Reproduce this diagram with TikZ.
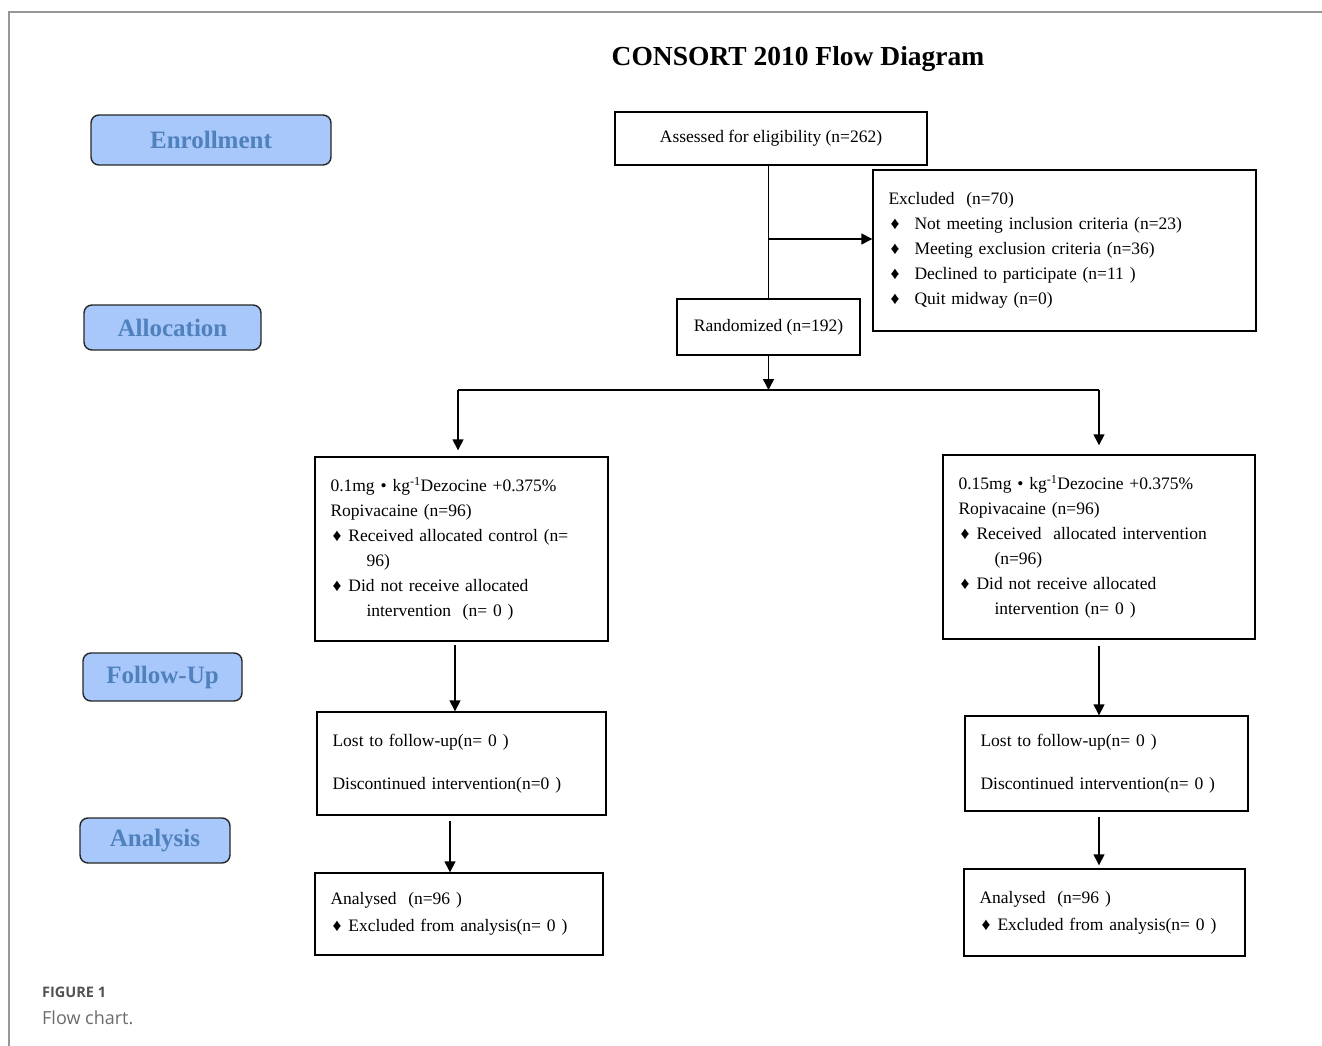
\documentclass[tikz,border=0pt]{standalone}
\usepackage{fontspec}
\setmainfont{Liberation Serif}
\newfontfamily\capfont{Open Sans}
\usetikzlibrary{arrows.meta,positioning,calc}

\definecolor{stagefill}{RGB}{168,199,250}
\definecolor{stagetext}{RGB}{79,129,189}
\definecolor{framegray}{RGB}{150,150,150}

% diamond bullets
\newcommand{\ebul}{\makebox[26pt][l]{\hspace{2pt}♦}}
\newcommand{\gbul}{\makebox[18pt][l]{\hspace{2pt}♦}}
\newcommand{\hang}{\hspace*{36pt}}

\begin{document}
\begin{tikzpicture}[
  x=1pt, y=-1pt,
  stage/.style={
    rectangle, rounded corners=8pt, draw=black!85, line width=1.4pt,
    fill=stagefill, text=stagetext, align=center,
    font=\fontsize{25}{30}\selectfont\bfseries},
  blk/.style={
    rectangle, draw, line width=1.4pt, align=center,
    inner xsep=15.5pt, font=\fontsize{17.5}{25}\selectfont},
  lst/.style={blk, align=left},
  line/.style={line width=1.4pt},
  arr/.style={line width=1.4pt, -{Triangle[length=11pt,width=11pt]}},
]
  \useasboundingbox (0,0) rectangle (1322,1046);
  \draw[framegray, line width=1.2pt] (9,1046) -- (9,12) -- (1322,12);

  \node[font=\fontsize{27.5}{32}\selectfont\bfseries, anchor=base]
      (title) at (798,66) {CONSORT 2010 Flow Diagram};

  % stage labels
  \node[stage, minimum width=240pt, minimum height=50pt] (enrol)  at (211,140)   {Enrollment};
  \node[stage, minimum width=177pt, minimum height=45pt] (alloc)  at (172.5,327.5) {Allocation};
  \node[stage, minimum width=159pt, minimum height=48pt] (follow) at (162.5,677) {Follow-Up};
  \node[stage, minimum width=150pt, minimum height=45pt] (analys) at (155,840.5) {Analysis};

  % enrollment
  \node[blk, minimum width=312pt, minimum height=53pt] (assess) at (771,138.5)
      {Assessed for eligibility (n=262)};
  \node[lst, text width=352pt, minimum height=161pt] (excl) at (1064.5,250.5)
      {Excluded\ \ (n=70)\\
       \ebul Not meeting inclusion criteria (n=23)\\
       \ebul Meeting exclusion criteria (n=36)\\
       \ebul Declined to participate (n=11 )\\
       \ebul Quit midway (n=0)};
  \node[blk, minimum width=183pt, minimum height=56pt] (rand) at (768.5,327)
      {Randomized (n=192)};

  % allocation
  \node[lst, text width=262pt, minimum height=184pt] (grpA) at (461.5,549)
      {0.1mg • kg\textsuperscript{-1}Dezocine +0.375\%\\
       Ropivacaine (n=96)\\
       \gbul Received allocated control (n=\\
       \hang 96)\\
       \gbul Did not receive allocated\\
       \hang intervention\ \ (n= 0 )};
  \node[lst, text width=281pt, minimum height=184pt] (grpB) at (1099,547)
      {0.15mg • kg\textsuperscript{-1}Dezocine +0.375\%\\
       Ropivacaine (n=96)\\
       \gbul Received\ \ allocated intervention\\
       \hang (n=96)\\
       \gbul Did not receive allocated\\
       \hang intervention (n= 0 )};

  % follow-up
  \node[lst, text width=258pt, minimum height=103pt] (fupA) at (461.5,763.5)
      {Lost to follow-up(n= 0 )\\[18pt]
       Discontinued intervention(n=0 )};
  \node[lst, text width=252pt, minimum height=95pt] (fupB) at (1106.5,763.5)
      {Lost to follow-up(n= 0 )\\[18pt]
       Discontinued intervention(n= 0 )};

  % analysis
  \node[lst, text width=257pt, minimum height=82pt] (anaA) at (459,914)
      {Analysed\ \ (n=96 )\\[2pt]
       \gbul Excluded from analysis(n= 0 )};
  \node[lst, text width=250pt, minimum height=87pt] (anaB) at (1104.5,912.5)
      {Analysed\ \ (n=96 )\\[2pt]
       \gbul Excluded from analysis(n= 0 )};

  % connectors
  \coordinate (split) at (769,239);
  \coordinate (forkL) at (458,390);
  \coordinate (forkR) at (1099,390);
  \draw[line] (rand.north |- assess.south) -- (rand.north);
  \draw[arr] (split) -- (split -| excl.west);
  \draw[arr] (rand.south) -- (rand.south |- forkL);
  \draw[line] (forkL) -- (forkR);
  \draw[arr, shorten >=6pt] (forkL) -- (forkL |- grpA.north);
  \draw[arr, shorten >=9pt] (forkR) -- (forkR |- grpB.north);
  \draw[arr] ([xshift=-6.5pt,yshift=-3pt]grpA.south) -- ([xshift=-6.5pt]grpA.south |- fupA.north);
  \draw[arr] ([yshift=-6pt]grpB.south) -- (grpB.south |- fupB.north);
  \draw[arr] ([xshift=-11.5pt,yshift=-5pt]fupA.south) -- ([xshift=-11.5pt]fupA.south |- anaA.north);
  \draw[arr] ([xshift=-7.5pt,yshift=-5pt]fupB.south) -- ([xshift=-7.5pt,yshift=3pt]fupB.south |- anaB.north);

  % caption
  \node[anchor=base west, inner sep=0pt, text=black!68,
        font=\capfont\fontsize{14.5}{16}\selectfont\bfseries] (fig) at (42,997) {FIGURE 1};
  \node[anchor=base west, inner sep=0pt, text=black!58,
        font=\capfont\fontsize{18}{20}\selectfont] (cap) at (42,1024) {Flow chart.};
\end{tikzpicture}
\end{document}
